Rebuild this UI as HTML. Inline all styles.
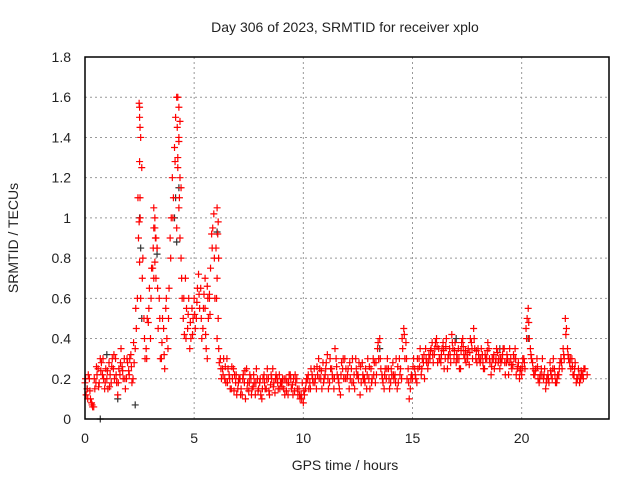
<!DOCTYPE html>
<html><head><meta charset="utf-8"><style>
body{margin:0;background:#fff}
svg text{font-family:"Liberation Sans",sans-serif;font-size:14px;fill:#222}
</style></head><body>
<svg width="640" height="480">
<g id="grid"></g>
<g id="marks"></g>
<rect x="85" y="57" width="524" height="362" fill="none" stroke="#000" stroke-width="1.5"/>
<g id="ticks"></g>
<text x="345" y="32" text-anchor="middle">Day 306 of 2023, SRMTID for receiver xplo</text>
<text x="345" y="470" text-anchor="middle">GPS time / hours</text>
<text x="18" y="238" text-anchor="middle" transform="rotate(-90 18 238)">SRMTID / TECUs</text>
</svg>
<script>
const xTicks=[0,5,10,15,20];
const yTicks=[0,0.2,0.4,0.6,0.8,1,1.2,1.4,1.6,1.8];
const yTickLabels=["0","0.2","0.4","0.6","0.8","1","1.2","1.4","1.6","1.8"];
const redA=[0.18,0.15,0.2,0.08,0.06,0.18,0.25,0.3,0.22,0.15,
0.2,0.28,0.18,0.25,0.3,0.12,0.22,0.26,0.3,0.2,
0.24,0.32,0.2,0.35,0.6,1.55,1.25,0.5,0.35,0.48,
0.4,0.75,1.0,0.85,0.6,0.3,0.45,0.55,0.35,0.9,
1.2,1.35,1.6,1.4,0.8,0.5,0.7,0.45,0.35,0.55,
0.6,0.5,0.72,0.65,0.45,0.55,0.3,0.62,0.92,1.02,
0.85,0.5,0.3,0.25,0.2,0.3,0.22,0.15,0.25,0.18,
0.15,0.2,0.12,0.18,0.25,0.14,0.2,0.16,0.12,0.2,
0.18,0.1,0.22,0.15,0.2,0.17,0.25,0.13,0.2,0.22,
0.18,0.15,0.2,0.12,0.22,0.17,0.14,0.2,0.15,0.12,
0.08,0.15,0.2,0.18,0.22,0.25,0.15,0.3,0.2,0.28,
0.22,0.32,0.18,0.25,0.15,0.3,0.2,0.12,0.25,0.3,
0.2,0.15,0.25,0.18,0.3,0.22,0.12,0.28,0.2,0.15,
0.2,0.25,0.3,0.18,0.35,0.4,0.22,0.15,0.2,0.25,
0.18,0.28,0.22,0.15,0.3,0.2,0.45,0.38,0.25,0.15,
0.2,0.25,0.18,0.3,0.22,0.28,0.35,0.25,0.3,0.38,
0.32,0.4,0.35,0.28,0.38,0.3,0.25,0.35,0.42,0.3,
0.28,0.35,0.25,0.4,0.3,0.32,0.27,0.38,0.45,0.3,
0.35,0.28,0.32,0.25,0.3,0.35,0.22,0.3,0.28,0.33,
0.25,0.3,0.35,0.28,0.22,0.3,0.27,0.35,0.25,0.2,
0.22,0.3,0.45,0.55,0.35,0.28,0.22,0.3,0.18,0.25,
0.2,0.15,0.22,0.28,0.2,0.25,0.18,0.22,0.3,0.35,
0.5,0.35,0.28,0.3,0.22,0.18,0.25,0.2,0.22,0.25,
0.22];
const redB=[0.12,0.22,0.1,0.06,0.15,0.22,0.18,0.28,0.2,0.25,
0.15,0.22,0.3,0.2,0.18,0.25,0.35,0.2,0.15,0.28,
0.3,0.18,0.28,0.45,0.9,1.4,0.8,0.3,0.5,0.65,
0.75,0.95,0.7,0.45,0.3,0.5,0.25,0.4,0.65,1.0,
1.1,1.5,1.25,0.9,0.6,0.42,0.55,0.6,0.4,0.5,
0.45,0.65,0.55,0.4,0.62,0.35,0.5,0.75,0.95,0.6,
0.4,0.28,0.2,0.3,0.18,0.25,0.15,0.2,0.22,0.12,
0.2,0.15,0.22,0.1,0.18,0.22,0.15,0.18,0.25,0.15,
0.12,0.2,0.15,0.25,0.12,0.2,0.18,0.22,0.15,0.18,
0.2,0.12,0.18,0.22,0.15,0.2,0.18,0.12,0.1,0.18,
0.12,0.2,0.15,0.25,0.18,0.2,0.22,0.25,0.15,0.2,
0.28,0.15,0.25,0.2,0.35,0.22,0.15,0.28,0.2,0.25,
0.25,0.2,0.3,0.15,0.22,0.28,0.18,0.2,0.25,0.3,
0.15,0.2,0.28,0.22,0.3,0.25,0.18,0.25,0.3,0.15,
0.22,0.2,0.3,0.18,0.25,0.35,0.3,0.2,0.1,0.22,
0.3,0.2,0.25,0.35,0.3,0.2,0.28,0.32,0.35,0.28,
0.38,0.28,0.3,0.35,0.25,0.4,0.32,0.28,0.35,0.38,
0.3,0.25,0.38,0.32,0.28,0.35,0.4,0.3,0.35,0.28,
0.3,0.35,0.25,0.3,0.38,0.28,0.3,0.25,0.35,0.3,
0.28,0.35,0.22,0.3,0.35,0.25,0.3,0.22,0.28,0.25,
0.3,0.25,0.5,0.4,0.3,0.22,0.25,0.2,0.22,0.3,
0.25,0.2,0.18,0.22,0.3,0.18,0.22,0.28,0.25,0.3,
0.45,0.3,0.25,0.22,0.28,0.2,0.18,0.22,0.25];
const redC=[0.2,0.1,0.14,0.07,0.2,0.26,0.16,0.24,0.3,0.18,
0.24,0.16,0.26,0.32,0.22,0.18,0.28,0.24,0.2,0.3,
0.22,0.26,0.38,0.55,1.1,1.0,0.7,0.4,0.3,0.55,
0.6,0.85,0.9,0.65,0.5,0.38,0.32,0.6,0.5,0.8,
1.0,1.28,1.45,1.1,0.7,0.6,0.4,0.52,0.48,0.42,
0.52,0.58,0.62,0.5,0.55,0.42,0.6,0.52,0.85,0.8,
0.6,0.35,0.25,0.22,0.26,0.18,0.2,0.26,0.14,0.22,
0.18,0.12,0.2,0.24,0.15,0.18,0.12,0.22,0.18,0.14,
0.2,0.15,0.18,0.2,0.14,0.22,0.16,0.2,0.18,0.15,
0.16,0.2,0.14,0.18,0.2,0.12,0.22,0.15,0.12,0.1,
0.14,0.18,0.22,0.15,0.2,0.18,0.26,0.2,0.24,0.18,
0.25,0.2,0.3,0.22,0.2,0.26,0.18,0.22,0.3,0.2,
0.22,0.28,0.18,0.22,0.25,0.2,0.26,0.22,0.18,0.22,
0.26,0.18,0.22,0.28,0.38,0.3,0.2,0.22,0.25,0.2,
0.25,0.22,0.18,0.26,0.22,0.4,0.42,0.3,0.18,0.2,
0.26,0.22,0.3,0.26,0.25,0.32,0.3,0.28,0.34,0.32,
0.35,0.36,0.3,0.32,0.34,0.36,0.3,0.32,0.38,0.34,
0.32,0.3,0.34,0.36,0.34,0.3,0.33,0.35,0.4,0.34,
0.32,0.3,0.28,0.32,0.34,0.3,0.26,0.32,0.3,0.28,
0.3,0.32,0.28,0.32,0.28,0.27,0.32,0.3,0.26,0.24,
0.26,0.28,0.4,0.48,0.32,0.25,0.24,0.26,0.2,0.22,
0.22,0.18,0.2,0.24,0.25,0.22,0.2,0.25,0.28,0.32,
0.42,0.32,0.3,0.26,0.25,0.2,0.22,0.24,0.2];
const spikeX=[2.48,2.5,2.52,2.5,2.52,2.48,2.5,2.55,3.15,3.2,3.25,3.2,3.15,3.3,4.25,4.3,4.35,4.3,4.25,4.35,4.3,4.2,4.4,6.05,6.1,6.08,6.12,6.05,5.5,5.6,5.7];
const spikeY=[1.57,1.5,1.45,1.28,1.1,0.98,0.78,0.6,1.05,0.95,0.9,0.78,0.7,0.85,1.6,1.55,1.48,1.38,1.3,1.2,1.05,0.95,1.15,1.05,0.98,0.92,0.8,0.7,0.7,0.66,0.6];
const grayX=[2.5,2.55,2.6,3.3,4.1,4.2,4.3,4.15,6.05,0.7,1.5,2.3,0.1,1.0,20.3,19.0,13.5,17.0];
const grayY=[1.0,0.85,0.5,0.82,1.0,0.88,1.15,1.1,0.93,0.0,0.1,0.07,0.15,0.32,0.4,0.35,0.35,0.4];
const X0=85,X1=609,Y0=419,Y1=57,XMAX=24,YMAX=1.8;
const xs=v=>X0+v/XMAX*(X1-X0);
const ys=v=>Y0-v/YMAX*(Y0-Y1);
const NS="http://www.w3.org/2000/svg";
const grid=document.getElementById('grid'),ticks=document.getElementById('ticks'),marks=document.getElementById('marks');
function mk(tag,attrs,parent){const e=document.createElementNS(NS,tag);for(const k in attrs)e.setAttribute(k,attrs[k]);parent.appendChild(e);return e;}
xTicks.forEach(t=>{
 const g=mk('line',{x1:xs(t),x2:xs(t),y1:Y0,y2:Y1,stroke:'#999','stroke-dasharray':'2,3'},grid);
 
 
 const l=mk('text',{x:xs(t),y:Y0+24,'text-anchor':'middle'},ticks);l.textContent=t;
 
 
});
yTicks.forEach((t,i)=>{
 const g=mk('line',{x1:X0,x2:X1,y1:ys(t),y2:ys(t),stroke:'#999','stroke-dasharray':'2,3'},grid);
 
 
 const l=mk('text',{x:X0-14,y:ys(t)+5,'text-anchor':'end'},ticks);l.textContent=yTickLabels[i];
 
 
});
function plus(x,y,c,name){
 const p=mk('path',{d:`M${x-3.5},${y}h7M${x},${y-3.5}v7`,stroke:c,'stroke-width':1.2,fill:'none'},marks);
 
 
}
grayX.forEach((x,i)=>plus(xs(x),ys(grayY[i]),'#333','gray-point'));
redA.forEach((v,i)=>plus(xs(i*0.1),ys(v),'#f00','red-point'));
redB.forEach((v,i)=>plus(xs(0.05+i*0.1),ys(v),'#f00','red-point'));
redC.forEach((v,i)=>plus(xs(0.025+i*0.1),ys(v),'#f00','red-point'));
spikeX.forEach((x,i)=>plus(xs(x),ys(spikeY[i]),'#f00','red-point'));
</script>
</body></html>
